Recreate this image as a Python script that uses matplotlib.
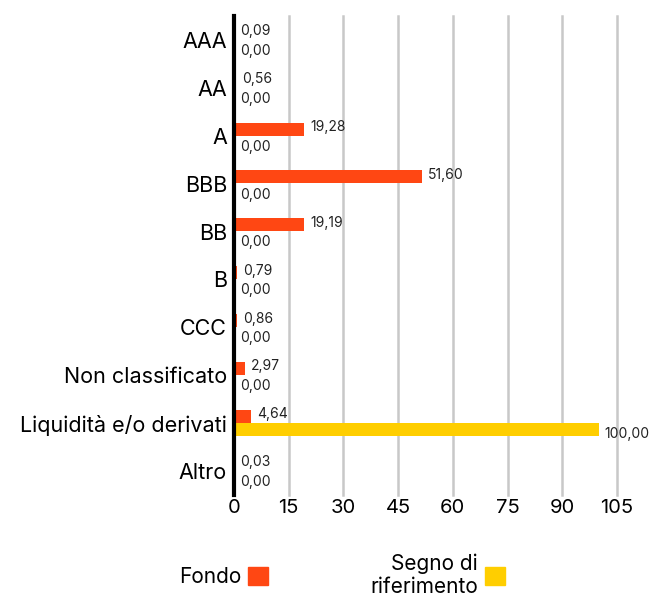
import numpy as np
import matplotlib
matplotlib.use("Agg")
import matplotlib.pyplot as plt
from matplotlib.patches import Patch

plt.rcParams['font.family'] = ['Inter', 'DejaVu Sans']

# data
categories = ['AAA', 'AA', 'A', 'BBB', 'BB', 'B', 'CCC', 'Non classificato',
              'Liquidità e/o derivati', 'Altro']
fondo = [0.09, 0.56, 19.28, 51.60, 19.19, 0.79, 0.86, 2.97, 4.64, 0.03]
benchmark = [0.0, 0.0, 0.0, 0.0, 0.0, 0.0, 0.0, 0.0, 100.0, 0.0]
x_ticks = [0, 15, 30, 45, 60, 75, 90, 105]

ORANGE = '#FF4713'
YELLOW = '#FFCE00'


def fmt(v):
    return '{:.2f}'.format(v).replace('.', ',')


fig = plt.figure(figsize=(6.64, 5.99), dpi=100)
ax = fig.add_axes([234 / 664, 1 - 495 / 599, (617 - 234) / 664, (495 - 16) / 599])

y = np.arange(len(categories))
h = 0.27
off = 0.14
ax.barh(y - off, fondo, height=h, color=ORANGE, zorder=3)
ax.barh(y + off, benchmark, height=h, color=YELLOW, zorder=3)

for yi, v in zip(y, fondo):
    ax.annotate(fmt(v), (v, yi - off), xytext=(4.3, 1.5), textcoords='offset points',
                va='center', ha='left', fontsize=10, color='#222222', zorder=4)
for yi, v in zip(y, benchmark):
    ax.annotate(fmt(v), (v, yi + off), xytext=(4.3, -3), textcoords='offset points',
                va='center', ha='left', fontsize=10, color='#222222', zorder=4,
                annotation_clip=False)

ax.set_xlim(0, 105)
ax.set_ylim(len(categories) - 0.5, -0.5)
ax.set_xticks(x_ticks)
ax.set_xticklabels([str(t) for t in x_ticks], fontsize=14.5)
ax.set_yticks(y)
ax.set_yticklabels(categories, fontsize=15.5)
ax.tick_params(length=0, pad=5)
ax.tick_params(axis='x', pad=3)

ax.grid(axis='x', color='#C8C8C8', linewidth=1.8, zorder=0)
for gl in ax.get_xgridlines():
    gl.set_clip_on(False)
for s in ['top', 'right', 'bottom']:
    ax.spines[s].set_visible(False)
ax.spines['left'].set_linewidth(3)
ax.spines['left'].set_color('black')
ax.spines['left'].set_zorder(5)

handles = [Patch(color=ORANGE, label='Fondo'),
           Patch(color=YELLOW, label='Segno di\nriferimento')]
leg = fig.legend(handles=handles, loc='center', bbox_to_anchor=(0.515, 0.04), ncol=2,
                 markerfirst=False, frameon=False, fontsize=15, handlelength=0.95,
                 handleheight=0.95, handletextpad=0.35, columnspacing=4.9)
for t in leg.get_texts():
    t.set_multialignment('right')

fig.savefig('out.png', dpi=100)
